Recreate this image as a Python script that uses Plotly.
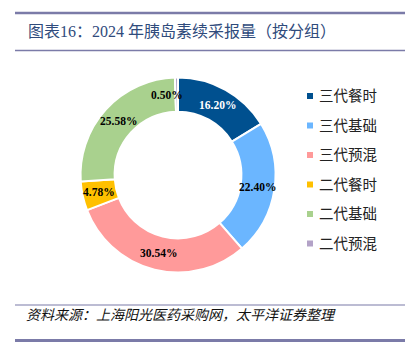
import math
import plotly.graph_objects as go

categories = ["三代餐时", "三代基础", "三代预混", "二代餐时", "二代基础", "二代预混"]
values = [16.20, 22.40, 30.54, 4.78, 25.58, 0.50]
colors = ["#00508F", "#6BB6FF", "#FF9A9A", "#FFC000", "#A9D18E", "#B3A2C7"]
label_colors = ["white", "black", "black", "black", "black", "black"]

title_text = "图表16：2024 年胰岛素续采报量（按分组）"
source_text = "资料来源：上海阳光医药采购网，太平洋证券整理"

W, H = 407, 342
cx, cy, R = 178.0, 175.0, 97.5   # pixel centre / radius of donut
HOLE = 0.65

SERIF = "Liberation Serif, Times New Roman, Noto Sans CJK SC, serif"
CJK = "Liberation Serif, Noto Sans CJK SC, serif"

fig = go.Figure()
fig.add_trace(go.Pie(
    labels=categories,
    values=values,
    sort=False,
    direction="clockwise",
    rotation=0,
    hole=HOLE,
    marker=dict(colors=colors, line=dict(color="white", width=2)),
    textinfo="none",
    showlegend=False,
    domain=dict(x=[(cx - R) / W, (cx + R) / W],
                y=[(H - cy - R) / H, (H - cy + R) / H]),
))

# slice labels at mid-ring
annotations = []
cum = 0.0
total = sum(values)
rmid = R * (1 + HOLE) / 2
for v, lc in zip(values, label_colors):
    mid = (cum + v / 2) / total * 2 * math.pi
    cum += v
    px = cx + rmid * math.sin(mid)
    py = cy - rmid * math.cos(mid)
    small = v < 1
    annotations.append(dict(
        x=(px + (8 if small else 0)) / W, y=1 - py / H, xref="paper", yref="paper",
        text=f"<b>{v:.2f}%</b>", showarrow=False,
        xanchor="right" if small else "center", yanchor="middle",
        font=dict(family=SERIF, size=11.5, color=lc),
    ))

# legend drawn manually
shapes = []
leg_x, leg_y0, leg_dy = 310, 96, 29.5
for i, (cat, col) in enumerate(zip(categories, colors)):
    y = leg_y0 + i * leg_dy
    shapes.append(dict(type="rect", xref="paper", yref="paper",
                       x0=(leg_x - 3) / W, x1=(leg_x + 3) / W,
                       y0=1 - (y + 3) / H, y1=1 - (y - 3) / H,
                       fillcolor=col, line=dict(width=0)))
    annotations.append(dict(x=(leg_x + 7) / W, y=1 - y / H, xref="paper", yref="paper",
                            text=cat, showarrow=False, xanchor="left", yanchor="middle",
                            font=dict(family=CJK, size=14.5, color="#222222")))

# frame lines
line_col = "#7B7BA8"
for yy, wdt in [(13, 2.5), (50.5, 1.5), (305, 1.2), (340.5, 3)]:
    shapes.append(dict(type="line", xref="paper", yref="paper",
                       x0=15 / W, x1=405 / W, y0=1 - yy / H, y1=1 - yy / H,
                       line=dict(color=line_col, width=wdt)))

annotations.append(dict(x=26 / W, y=1 - 31 / H, xref="paper", yref="paper",
                        text=title_text, showarrow=False, xanchor="left", yanchor="middle",
                        font=dict(family=CJK, size=16, color="#2F4B7C")))
annotations.append(dict(x=24 / W, y=1 - 315 / H, xref="paper", yref="paper",
                        text=f"<i>{source_text}</i>", showarrow=False, xanchor="left",
                        yanchor="middle",
                        font=dict(family=CJK, size=14, color="#111111")))

fig.update_layout(
    width=W, height=H,
    margin=dict(l=0, r=0, t=0, b=0),
    paper_bgcolor="white", plot_bgcolor="white",
    shapes=shapes, annotations=annotations,
)

fig.write_html("out.html")
